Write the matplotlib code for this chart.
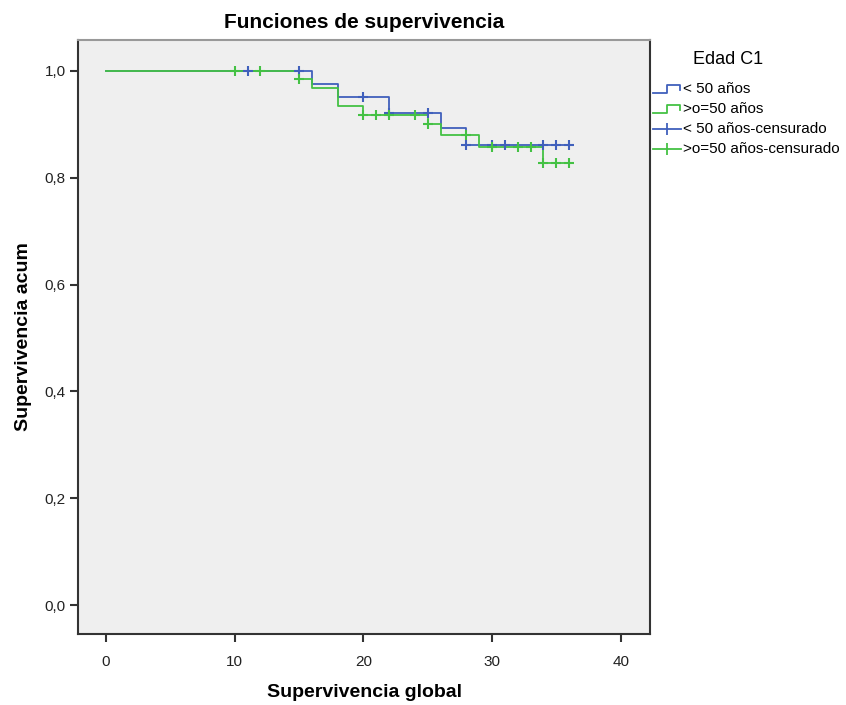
import matplotlib.pyplot as plt
from matplotlib.lines import Line2D

plt.rcParams['font.family'] = ['Liberation Sans', 'DejaVu Sans']

# Kaplan-Meier steps
menor_t = [0, 16, 18, 22, 26, 28, 36]
menor_s = [1.0, 0.976, 0.951, 0.922, 0.894, 0.862, 0.862]
menor_cens_t = [11, 15, 20, 22, 25, 28, 30, 31, 34, 35, 36]

mayor_t = [0, 15, 16, 18, 20, 25, 26, 29, 34, 36]
mayor_s = [1.0, 0.985, 0.968, 0.935, 0.918, 0.901, 0.880, 0.858, 0.827, 0.827]
mayor_cens_t = [10, 12, 15, 20, 21, 22, 24, 25, 28, 30, 32, 33, 34, 35, 36]

labels = ["< 50 años", ">o=50 años", "< 50 años-censurado", ">o=50 años-censurado"]
azul = "#4060BC"
verde = "#44C144"


def surv_at(ts, ss, t):
    # value of the step curve at time t (right-continuous)
    v = ss[0]
    for ti, si in zip(ts, ss):
        if ti <= t:
            v = si
    return v


fig = plt.figure(figsize=(8.46, 7.05), dpi=100)
ax = fig.add_axes([78 / 846, 1 - 634 / 705, (650 - 78) / 846, (634 - 40) / 705])
ax.set_facecolor("#EFEFEF")

ax.step(menor_t, menor_s, where="post", color=azul, lw=1.3)
ax.step(mayor_t, mayor_s, where="post", color=verde, lw=1.3)
ax.plot(menor_cens_t, [surv_at(menor_t, menor_s, t) for t in menor_cens_t],
        ls="none", marker="+", ms=7, mew=1.5, color=azul)
ax.plot(mayor_cens_t, [surv_at(mayor_t, mayor_s, t) for t in mayor_cens_t],
        ls="none", marker="+", ms=7, mew=1.5, color=verde)

ax.set_xlim(-2.18, 42.28)
ax.set_ylim(-0.054, 1.058)
ax.set_xticks([0, 10, 20, 30, 40])
ax.set_yticks([0, 0.2, 0.4, 0.6, 0.8, 1.0])
ax.set_yticklabels(["0,0", "0,2", "0,4", "0,6", "0,8", "1,0"])
ax.tick_params(direction="out", length=6, width=1.5, color="#333333",
               labelsize=11, labelcolor="#222222", pad=3)
ax.tick_params(axis="x", pad=9)
for s in ax.spines.values():
    s.set_color("#333333")
    s.set_linewidth(1.5)
ax.spines["top"].set_color("#999999")

ax.set_title("Funciones de supervivencia", fontsize=15, fontweight="bold", pad=9)
ax.set_xlabel("Supervivencia global", fontsize=14, fontweight="bold", labelpad=11)
ax.set_ylabel("Supervivencia acum", fontsize=14, fontweight="bold", labelpad=9)

# legend drawn by hand to mimic the SPSS glyphs
W, H = 846, 705
fig.text(728 / W, 1 - 60 / H, "Edad C1", fontsize=13, ha="center", va="center")
ys = [89, 109, 129, 149]
cols = [azul, verde, azul, verde]
for i, (y, c, lab) in enumerate(zip(ys, cols, labels)):
    fy = 1 - y / H
    if i < 2:
        xs = [653, 667, 667, 680, 680]
        yy = [y + 4, y + 4, y - 4, y - 4, y + 1]
        fig.add_artist(Line2D([x / W for x in xs], [1 - v / H for v in yy],
                              color=c, lw=1.3))
    else:
        fig.add_artist(Line2D([653 / W, 681 / W], [fy, fy], color=c, lw=1.3))
        fig.add_artist(Line2D([667 / W], [fy], color=c, marker="|", ms=9, mew=1.3))
    fig.text(683 / W, fy, lab, fontsize=11, ha="left", va="center")

fig.savefig("out.png", dpi=100)
